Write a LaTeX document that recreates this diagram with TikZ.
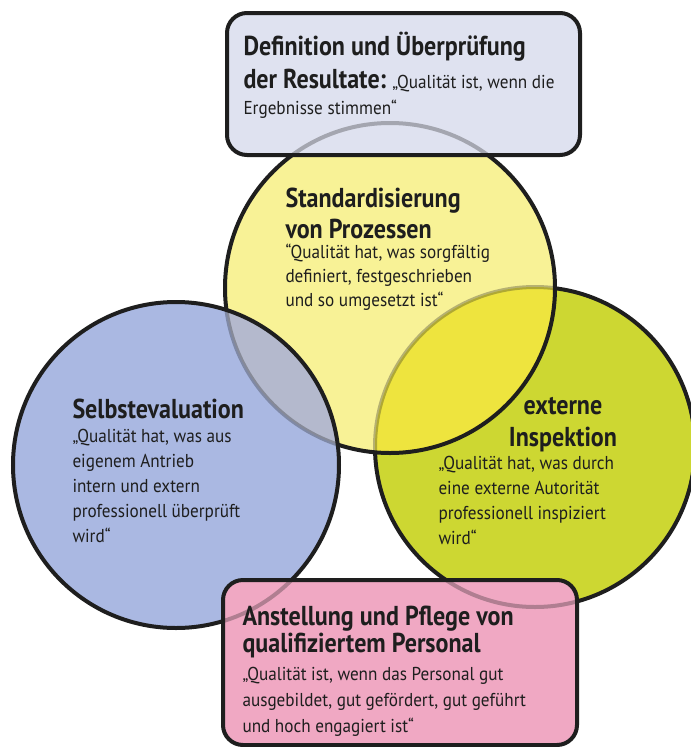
\documentclass[tikz,border=0pt]{standalone}
\usepackage{fontspec}
\setmainfont{PT Sans}
\newfontfamily\headfont{PT Sans}[FakeStretch=0.88]
\newfontfamily\quotefont{PT Sans}[FakeStretch=0.92]

\definecolor{ink}{RGB}{30,30,30}
\definecolor{boxlav}{RGB}{223,226,240}
\definecolor{circyel}{RGB}{248,242,150}
\definecolor{circgrn}{RGB}{205,215,50}
\definecolor{circblu}{RGB}{170,184,226}
\definecolor{boxpnk}{RGB}{240,168,195}
\definecolor{ovlyg}{RGB}{238,228,62}
\definecolor{ovlby}{RGB}{180,185,205}

\tikzset{every picture/.style={line width=0.75pt}}
\tikzset{
  rim/.style={draw=ink,line width=3pt},
  ghost/.style={draw=ink,line width=3pt,draw opacity=0.3},
  head/.style={font=\headfont\bfseries\fontsize{20.5}{#1}\selectfont,text=ink,align=left,inner sep=0pt,anchor=base west},
  head/.default=23.25,
  quote/.style={font=\quotefont\fontsize{14}{#1}\selectfont,text=ink,align=left,inner sep=0pt,anchor=base west},
  quote/.default=18.5
}

\begin{document}
\begin{tikzpicture}[x=0.75pt,y=0.75pt,yscale=-1,xscale=1]
\useasboundingbox (0,0) rectangle (691,747);

%Circle: externe Inspektion
\fill [circgrn] (535,447) circle [radius=160];
\draw [rim] (535,447) circle [radius=160];
%Circle: Standardisierung
\fill [circyel] (390,288) circle [radius=165];
\begin{scope}
\clip (390,288) circle [radius=165];
\fill [ovlyg] (535,447) circle [radius=160];
\draw [ghost] (535,447) circle [radius=160];
\end{scope}
\draw [rim] (390,288) circle [radius=165];
%Circle: Selbstevaluation
\fill [circblu] (176,465) circle [radius=163];
\begin{scope}
\clip (176,465) circle [radius=163];
\fill [ovlby] (390,288) circle [radius=165];
\draw [ghost] (390,288) circle [radius=165];
\end{scope}
\draw [rim] (176,465) circle [radius=163];

%Rounded box: Resultate
\fill [boxlav, rounded corners=15pt] (227,13) rectangle (580,155);
\begin{scope}
\clip [rounded corners=15pt] (227,13) rectangle (580,155);
\draw [ghost] (390,288) circle [radius=165];
\end{scope}
\draw [rim, rounded corners=15pt] (227,13) rectangle (580,155);
%Rounded box: Personal
\fill [boxpnk, rounded corners=15pt] (223,580) rectangle (577,745);
\begin{scope}
\clip [rounded corners=15pt] (223,580) rectangle (577,745);
\draw [ghost] (176,465) circle [radius=163];
\draw [ghost] (535,447) circle [radius=160];
\end{scope}
\draw [rim, rounded corners=15pt] (223,580) rectangle (577,745);

% Text Node
\node [head] (resulthead) at (243,55) {Definition und Überprüfung};
% Text Node
\node [quote] (resultline) at (243,88) {{\headfont\bfseries\fontsize{20.5}{24}\selectfont der Resultate:} „Qualität ist, wenn die};
% Text Node
\node [quote] (resultend) at (243,114) {Ergebnisse stimmen“};
% Text Node
\node [head] (prozhead) at (285,238) {Standardisierung\\von Prozessen};
% Text Node
\node [quote=18] (prozquote) at (285,306) {“Qualität hat, was sorgfältig\\definiert, festgeschrieben\\und so umgesetzt ist“};
% Text Node
\node [head] (selbsthead) at (72,418) {Selbstevaluation};
% Text Node
\node [quote=18.75] (selbstquote) at (72,542) {„Qualität hat, was aus\\eigenem Antrieb\\intern und extern\\professionell überprüft\\wird“};
% Text Node
\node [head=24, align=center, anchor=base] (insphead) at (563,446) {externe\\Inspektion};
% Text Node
\node [quote=18.75] (inspquote) at (438,544) {„Qualität hat, was durch\\eine externe Autorität\\professionell inspiziert\\wird“};
% Text Node
\node [head=20.25] (personhead) at (242,652) {Anstellung und Pflege von\\qualifiziertem Personal};
% Text Node
\node [quote=19.5] (personquote) at (242,732) {„Qualität ist, wenn das Personal gut\\ausgebildet, gut gefördert, gut geführt\\und hoch engagiert ist“};

\end{tikzpicture}
\end{document}
